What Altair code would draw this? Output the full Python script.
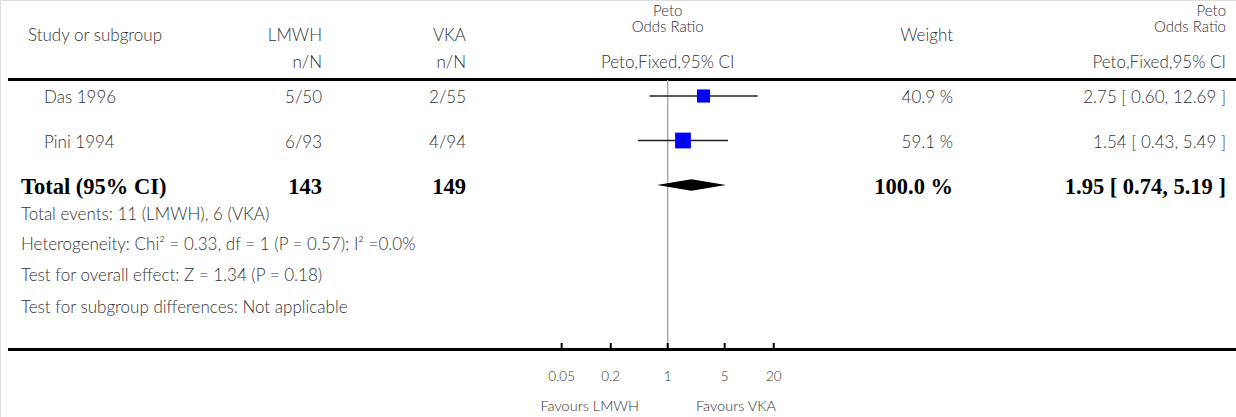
import altair as alt
import pandas as pd

# ---- study data -------------------------------------------------------------
studies = ["Das 1996", "Pini 1994"]
lmwh_events = [5, 6]
lmwh_total = [50, 93]
vka_events = [2, 4]
vka_total = [55, 94]
weights = [40.9, 59.1]
or_est = [2.75, 1.54]
or_low = [0.60, 0.43]
or_high = [12.69, 5.49]

pooled_est = 1.95
pooled_low = 0.74
pooled_high = 5.19

tick_values = [0.05, 0.2, 1, 5, 20]
tick_labels = ["0.05", "0.2", "1", "5", "20"]

footnotes = [
    "Total events: 11 (LMWH), 6 (VKA)",
    "Heterogeneity: Chi\u00b2 = 0.33, df = 1 (P = 0.57); I\u00b2 =0.0%",
    "Test for overall effect: Z = 1.34 (P = 0.18)",
    "Test for subgroup differences: Not applicable",
]

# ---- tables -----------------------------------------------------------------
study_df = pd.DataFrame({
    "study": studies,
    "row": list(range(len(studies))),
    "lmwh": [f"{e}/{n}" for e, n in zip(lmwh_events, lmwh_total)],
    "vka": [f"{e}/{n}" for e, n in zip(vka_events, vka_total)],
    "weight": weights,
    "weight_txt": [f"{w:.1f} %" for w in weights],
    "est": or_est,
    "low": or_low,
    "high": or_high,
    "ci_txt": [f"{m:.2f} [ {l:.2f}, {h:.2f} ]" for m, l, h in zip(or_est, or_low, or_high)],
})

total_row = len(studies)
total_df = pd.DataFrame({
    "row": [total_row],
    "label": ["Total (95% CI)"],
    "lmwh": [str(sum(lmwh_total))],
    "vka": [str(sum(vka_total))],
    "weight_txt": [f"{sum(weights):.1f} %"],
    "ci_txt": [f"{pooled_est:.2f} [ {pooled_low:.2f}, {pooled_high:.2f} ]"],
})

# diamond outline: zero thickness at the CI limits, full thickness at the estimate
half = 0.13
diamond_df = pd.DataFrame({
    "x": [pooled_low, pooled_est, pooled_high],
    "y": [total_row, total_row - half, total_row],
    "y2": [total_row, total_row + half, total_row],
})

ticks_df = pd.DataFrame({"v": tick_values, "lab": tick_labels})

# ---- scales -----------------------------------------------------------------
xscale = alt.Scale(type="log", domain=[0.01, 100], range=[504.7, 830.7])
yscale = alt.Scale(domain=[0, total_row], range=[96, 185])

SANS = "Lato"
SERIF = "Liberation Serif"
GREY = "#333333"
FS = 17
FB = 22.5

one = pd.DataFrame({"k": [0]})


def label(text, x, y, align="left", size=FS, font=SANS, weight=300, color=GREY):
    return alt.Chart(one).mark_text(
        text=text, align=align, baseline="middle", font=font, fontSize=size,
        fontWeight=weight, color=color,
    ).encode(x=alt.value(x), y=alt.value(y))


def hline(y, x1=8, x2=1236):
    return alt.Chart(one).mark_rule(color="black", strokeWidth=3).encode(
        x=alt.value(x1), x2=alt.value(x2), y=alt.value(y))


# ---- header -----------------------------------------------------------------
COL_LMWH = 322
COL_VKA = 466
COL_W = 953
COL_CI = 1226
MID = 667.7
LEFT = 21

header = [
    label("Study or subgroup", 28, 36),
    label("LMWH", COL_LMWH, 36, "right"),
    label("VKA", COL_VKA, 36, "right"),
    label("Peto", MID, 10.5, "center", size=15),
    label("Odds Ratio", MID, 27, "center", size=15),
    label("Weight", COL_W, 36, "right"),
    label("Peto", COL_CI, 10.5, "right", size=15),
    label("Odds Ratio", COL_CI, 27, "right", size=15),
    label("n/N", COL_LMWH, 63, "right"),
    label("n/N", COL_VKA, 63, "right"),
    label("Peto,Fixed,95% CI", MID, 63, "center"),
    label("Peto,Fixed,95% CI", COL_CI, 63, "right"),
    hline(79.5),
    hline(349.5),
]

# ---- study rows -------------------------------------------------------------
sbase = alt.Chart(study_df)
y_row = alt.Y("row:Q", scale=yscale, axis=None)


def col_text(field, x, align="right"):
    return sbase.mark_text(align=align, baseline="middle", font=SANS, fontSize=FS,
                           fontWeight=300, color=GREY, dy=2).encode(
        x=alt.value(x), y=y_row, text=f"{field}:N")


rows = [
    col_text("study", 44, "left"),
    col_text("lmwh", COL_LMWH),
    col_text("vka", COL_VKA),
    col_text("weight_txt", COL_W),
    col_text("ci_txt", COL_CI),
]

tbase = alt.Chart(total_df)


def tot_text(field, x, align="right"):
    return tbase.mark_text(align=align, baseline="middle", font=SERIF, fontSize=FB,
                           fontWeight="bold", color="black", dy=2).encode(
        x=alt.value(x), y=y_row, text=f"{field}:N")


totals = [
    tot_text("label", LEFT, "left"),
    tot_text("lmwh", COL_LMWH),
    tot_text("vka", COL_VKA),
    tot_text("weight_txt", COL_W),
    tot_text("ci_txt", COL_CI),
]

notes = [label(t, LEFT, y) for t, y in zip(footnotes, [215, 245, 276, 308])]

# ---- forest plot ------------------------------------------------------------
null_line = alt.Chart(one).mark_rule(color="#aaaaaa", strokeWidth=1.5).encode(
    x=alt.X(datum=1, scale=xscale, axis=None), y=alt.value(80), y2=alt.value(349))

ci = sbase.mark_rule(color="#222222", strokeWidth=1.3).encode(
    x=alt.X("low:Q", scale=xscale, axis=None), x2="high:Q", y=y_row)

squares = sbase.mark_square(color="#0000ff", opacity=1).encode(
    x=alt.X("est:Q", scale=xscale, axis=None), y=y_row,
    size=alt.Size("weight:Q", scale=alt.Scale(domain=[0, 100], range=[0, 420]), legend=None))

centre = sbase.mark_tick(color="#111111", orient="vertical", size=6, thickness=1).encode(
    x=alt.X("est:Q", scale=xscale, axis=None), y=y_row)

diamond = alt.Chart(diamond_df).mark_area(color="black", orient="vertical", opacity=1).encode(
    x=alt.X("x:Q", scale=xscale, axis=None),
    y=alt.Y("y:Q", scale=yscale, axis=None), y2="y2:Q")

ticks = alt.Chart(ticks_df).mark_rule(color="black", strokeWidth=2).encode(
    x=alt.X("v:Q", scale=xscale, axis=None), y=alt.value(343), y2=alt.value(349))

tick_text = alt.Chart(ticks_df).mark_text(font=SANS, fontSize=13.5, fontWeight=300,
                                          color=GREY, baseline="middle").encode(
    x=alt.X("v:Q", scale=xscale, axis=None), y=alt.value(377), text="lab:N")

favours = [
    label("Favours LMWH", 639, 407, "right", size=14.5),
    label("Favours VKA", 696, 407, "left", size=14.5),
]

chart = alt.layer(
    *header, null_line, ci, squares, centre, diamond, ticks, tick_text,
    *rows, *totals, *notes, *favours,
).properties(
    width=1236, height=417, padding=0,
    autosize=alt.AutoSizeParams(type="none"),
).configure_view(stroke=None).configure(background="white")

chart.save("out.html", embed_options={"renderer": "svg", "actions": False})
